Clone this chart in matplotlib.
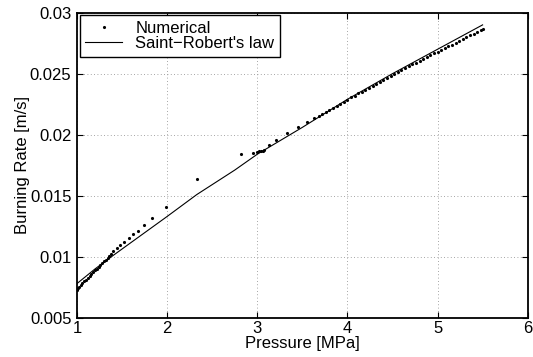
import matplotlib
matplotlib.use("Agg")
import matplotlib.pyplot as plt

plt.rcParams["font.family"] = ["Liberation Sans", "DejaVu Sans"]

# numerical solution
p_num = [1.00, 1.01, 1.02, 1.04, 1.06, 1.08, 1.10, 1.12, 1.14, 1.16, 1.18,
         1.20, 1.22, 1.24, 1.26, 1.28, 1.30, 1.32, 1.34, 1.36, 1.38, 1.40,
         1.443, 1.48, 1.524, 1.58, 1.624, 1.68, 1.743, 1.835, 1.987, 2.327,
         2.818, 2.951, 3.00, 3.02, 3.04, 3.06, 3.08, 3.125, 3.21, 3.332,
         3.454, 3.553, 3.631, 3.686,
         3.72, 3.76, 3.80, 3.84, 3.88, 3.92, 3.96, 4.00, 4.04, 4.08, 4.12,
         4.16, 4.20, 4.24, 4.28, 4.32, 4.36, 4.40, 4.44, 4.48, 4.52, 4.56,
         4.60, 4.64, 4.68, 4.72, 4.76, 4.80, 4.84, 4.88, 4.92, 4.96, 5.00,
         5.04, 5.08, 5.12, 5.16, 5.20, 5.24, 5.28, 5.32, 5.36, 5.40, 5.44,
         5.48, 5.50]
r_num = [0.00727, 0.00745, 0.00755, 0.00768, 0.00782, 0.00797, 0.00812,
         0.00828, 0.00843, 0.00858, 0.00873, 0.00888, 0.00903, 0.00918,
         0.00933, 0.00948, 0.00962, 0.00977, 0.00992, 0.01008, 0.01024,
         0.01045, 0.01074, 0.01098, 0.01123, 0.01156, 0.01184, 0.01213,
         0.01257, 0.01315, 0.01410, 0.01637, 0.01840, 0.01853, 0.01862,
         0.01864, 0.01866, 0.01870, 0.01875, 0.01913, 0.01957, 0.02017,
         0.02066, 0.02104, 0.02134, 0.02156,
         0.02170, 0.02187, 0.02204, 0.02221, 0.02238, 0.02255, 0.02272,
         0.02288, 0.02305, 0.02321, 0.02338, 0.02354, 0.02370, 0.02386,
         0.02402, 0.02418, 0.02434, 0.02450, 0.02466, 0.02482, 0.02498,
         0.02514, 0.02529, 0.02545, 0.02560, 0.02576, 0.02591, 0.02606,
         0.02621, 0.02636, 0.02651, 0.02666, 0.02680, 0.02695, 0.02710,
         0.02724, 0.02739, 0.02754, 0.02769, 0.02783, 0.02798, 0.02813,
         0.02828, 0.02842, 0.02857, 0.02865]

# Saint-Robert's law fit
p_law = [1.0, 1.2, 1.4, 1.7, 2.0, 2.33, 2.75, 3.0, 3.5, 4.0, 4.5, 5.0, 5.5]
r_law = [0.0078, 0.0090, 0.0101, 0.0117, 0.0133, 0.0151, 0.0171, 0.0184,
         0.0206, 0.0229, 0.0250, 0.0270, 0.0290]

xticks = [1, 2, 3, 4, 5, 6]
yticks = [0.005, 0.01, 0.015, 0.02, 0.025, 0.03]
ytick_labels = ["0.005", "0.01", "0.015", "0.02", "0.025", "0.03"]

fs = 12

fig = plt.figure(figsize=(5.33, 3.57), dpi=100)
ax = fig.add_axes([0.1445, 0.110, 0.8455, 0.8545])

ax.plot(p_num, r_num, ".", color="black", ms=2.5, label="Numerical")
ax.plot(p_law, r_law, "-", color="black", lw=0.8, label="Saint\u2212Robert's law")

ax.set_xlim(1, 6)
ax.set_ylim(0.005, 0.03)
ax.set_xticks(xticks)
ax.set_yticks(yticks)
ax.set_yticklabels(ytick_labels)
ax.grid(True, linestyle=(0, (1, 3)), color="#888888", linewidth=0.6)
ax.tick_params(direction="in", top=True, right=True, labelsize=fs,
               length=4, width=0.8)
ax.tick_params(axis="x", pad=2)
ax.tick_params(axis="y", pad=4)
for s in ax.spines.values():
    s.set_linewidth(1.3)

ax.set_xlabel("Pressure [MPa]", fontsize=fs, labelpad=0)
ax.set_ylabel("Burning Rate [m/s]", fontsize=fs, labelpad=0)

leg = ax.legend(loc="upper left", fontsize=fs, frameon=True, fancybox=False,
                edgecolor="black", framealpha=1, handlelength=2.2,
                borderaxespad=0.15, labelspacing=0.0, handletextpad=0.8,
                borderpad=0.35)
leg.get_frame().set_linewidth(1.0)

fig.savefig("out.png", dpi=100)
